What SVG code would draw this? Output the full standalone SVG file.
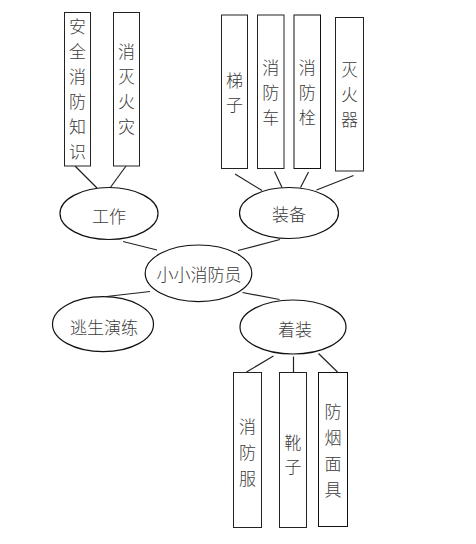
<svg xmlns="http://www.w3.org/2000/svg" width="476" height="544" viewBox="0 0 476 544">
<style>
.box{fill:#fff;stroke:#222;stroke-width:1}
.ell{fill:#fff;stroke:#111;stroke-width:1.2}
.t{font-family:"Noto Sans CJK SC","Noto Sans",sans-serif;font-size:17px;font-weight:300;fill:#3c3c3c;text-anchor:middle;dominant-baseline:central}
.c line{stroke:#222;stroke-width:1.2}
</style>
<rect width="476" height="544" fill="#fff"/>
<g class="c" id="connectors">
<line x1="75" y1="166" x2="97" y2="188"/>
<line x1="126" y1="166" x2="110" y2="188"/>
<line x1="123" y1="241.5" x2="157" y2="250"/>
<line x1="235" y1="174" x2="262" y2="190.5"/>
<line x1="274.5" y1="171.5" x2="282" y2="187.5"/>
<line x1="308.5" y1="172" x2="300.5" y2="187.5"/>
<line x1="353.5" y1="175.5" x2="316.5" y2="190"/>
<line x1="238" y1="250.5" x2="280" y2="239.5"/>
<line x1="150" y1="291.5" x2="106.5" y2="296.5"/>
<line x1="242.5" y1="292.5" x2="279.5" y2="299.5"/>
<line x1="273.5" y1="356" x2="246.5" y2="372"/>
<line x1="293.5" y1="356.5" x2="293.5" y2="372"/>
<line x1="318.5" y1="353.5" x2="337.5" y2="372"/>
</g>
<g id="n-anquan"><rect class="box" x="64.5" y="12.5" width="26" height="153.5"/>
<text class="t"><tspan x="77.5" y="25">安</tspan><tspan x="77.5" y="50">全</tspan><tspan x="77.5" y="75">消</tspan><tspan x="77.5" y="100">防</tspan><tspan x="77.5" y="125">知</tspan><tspan x="77.5" y="150">识</tspan></text></g>
<g id="n-xiemie"><rect class="box" x="113.5" y="12.5" width="26" height="153.5"/>
<text class="t"><tspan x="126.5" y="50">消</tspan><tspan x="126.5" y="75">灭</tspan><tspan x="126.5" y="100">火</tspan><tspan x="126.5" y="125">灾</tspan></text></g>
<g id="n-tizi"><rect class="box" x="221.5" y="15" width="26" height="153.5"/>
<text class="t"><tspan x="234.5" y="79">梯</tspan><tspan x="234.5" y="103">子</tspan></text></g>
<g id="n-xfc"><rect class="box" x="257.5" y="15" width="26.5" height="153.5"/>
<text class="t"><tspan x="270.8" y="66">消</tspan><tspan x="270.8" y="91">防</tspan><tspan x="270.8" y="116">车</tspan></text></g>
<g id="n-xfs"><rect class="box" x="294" y="15" width="26.5" height="153.5" style="stroke:#111"/>
<text class="t"><tspan x="307.3" y="66">消</tspan><tspan x="307.3" y="91">防</tspan><tspan x="307.3" y="116">栓</tspan></text></g>
<g id="n-mhq"><rect class="box" x="335.5" y="17.5" width="28" height="153.5"/>
<text class="t"><tspan x="349.5" y="68">灭</tspan><tspan x="349.5" y="93">火</tspan><tspan x="349.5" y="118">器</tspan></text></g>
<g id="n-gongzuo"><ellipse class="ell" cx="109" cy="213.5" rx="49" ry="26"/><text class="t" x="109" y="215">工作</text></g>
<g id="n-zhuangbei"><ellipse class="ell" cx="289" cy="213" rx="49.5" ry="25.5"/><text class="t" x="289" y="213">装备</text></g>
<g id="n-center"><ellipse class="ell" cx="198.5" cy="273.3" rx="53.3" ry="28.3"/><text class="t" x="199" y="273">小小消防员</text></g>
<g id="n-taosheng"><ellipse class="ell" cx="103" cy="324.2" rx="50.5" ry="27.5"/><text class="t" x="104" y="326">逃生演练</text></g>
<g id="n-zhuozhuang"><ellipse class="ell" cx="293" cy="327" rx="53" ry="27"/><text class="t" x="295" y="328">着装</text></g>
<g id="n-xff"><rect class="box" x="233.5" y="372.5" width="28" height="155"/>
<text class="t"><tspan x="247.5" y="425">消</tspan><tspan x="247.5" y="451">防</tspan><tspan x="247.5" y="477">服</tspan></text></g>
<g id="n-xuezi"><rect class="box" x="279.5" y="372.5" width="27" height="155"/>
<text class="t"><tspan x="293" y="441">靴</tspan><tspan x="293" y="465">子</tspan></text></g>
<g id="n-fymj"><rect class="box" x="318.5" y="372.5" width="29" height="154" style="stroke:#111"/>
<text class="t"><tspan x="333" y="410">防</tspan><tspan x="333" y="436">烟</tspan><tspan x="333" y="462">面</tspan><tspan x="333" y="488">具</tspan></text></g>
</svg>
